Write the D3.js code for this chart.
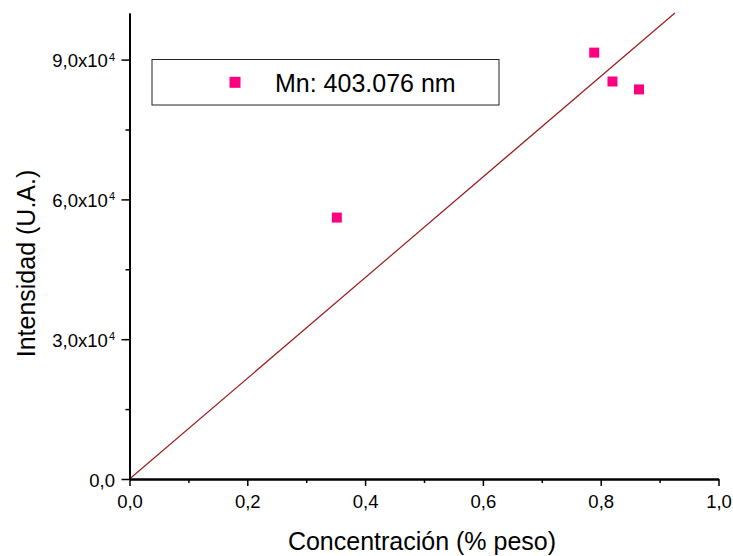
<!DOCTYPE html>
<html>
<head>
<meta charset="utf-8">
<script src="https://cdn.jsdelivr.net/npm/d3@7"></script>
<style>
  body { margin: 0; background: #fff; }
  svg { display: block; font-family: "Liberation Sans", Arial, sans-serif; }
</style>
</head>
<body>
<svg id="chart" width="733" height="556"></svg>
<script>
// Data
const concentracion = [0.352, 0.789, 0.820, 0.865];
const intensidad = [56100, 91500, 85300, 83600];
const fitX = [0, 0.926];
const fitY = [0, 100000];
const xTicks = [0, 0.2, 0.4, 0.6, 0.8, 1.0];
const xMinorTicks = [0.1, 0.3, 0.5, 0.7, 0.9];
const yTicks = [0, 30000, 60000, 90000];
const yMinorTicks = [15000, 45000, 75000];
const seriesName = "Mn: 403.076 nm";
const xTitle = "Concentración (% peso)";
const yTitle = "Intensidad (U.A.)";

const svg = d3.select("#chart");
const x = d3.scaleLinear().domain([0, 1]).range([129.5, 718.5]);
const y = d3.scaleLinear().domain([0, 100000]).range([479, 13]);

const fmtX = d => d3.format(".1f")(d).replace(".", ",");

// Fit line
svg.append("line")
  .attr("x1", x(fitX[0])).attr("y1", y(fitY[0]))
  .attr("x2", x(fitX[1])).attr("y2", y(fitY[1]))
  .attr("stroke", "#9b1c1c").attr("stroke-width", 1.2);

// Points
const ms = 10;
svg.selectAll("rect.pt").data(concentracion).enter().append("rect")
  .attr("class", "pt")
  .attr("x", (d) => x(d) - ms / 2)
  .attr("y", (d, i) => y(intensidad[i]) - ms / 2)
  .attr("width", ms).attr("height", ms)
  .attr("fill", "#ff0080");

// X axis
const gx = svg.append("g").attr("transform", `translate(0,${y(0)})`)
  .call(d3.axisBottom(x).tickValues(xTicks).tickFormat(fmtX).tickSize(7).tickSizeOuter(0).tickPadding(9));
svg.append("g").attr("transform", `translate(0,${y(0)})`)
  .call(d3.axisBottom(x).tickValues(xMinorTicks).tickFormat("").tickSize(4).tickSizeOuter(0));

// Y axis
const gy = svg.append("g").attr("transform", `translate(${x(0)},0)`)
  .call(d3.axisLeft(y).tickValues(yTicks).tickFormat("").tickSize(8).tickSizeOuter(0));
svg.append("g").attr("transform", `translate(${x(0)},0)`)
  .call(d3.axisLeft(y).tickValues(yMinorTicks).tickFormat("").tickSize(4).tickSizeOuter(0));

svg.selectAll(".domain").attr("stroke", "#000").attr("stroke-width", 1.8);
svg.selectAll(".tick line").attr("stroke", "#000").attr("stroke-width", 1.5);
gx.selectAll(".tick text").attr("font-size", 18.5).attr("fill", "#000")
  .attr("font-family", "Liberation Sans, Arial, sans-serif");

// Y tick labels
yTicks.forEach(v => {
  const t = svg.append("text")
    .attr("x", 115).attr("y", y(v) + 7.5)
    .attr("text-anchor", "end")
    .attr("font-size", 18.5).attr("fill", "#000");
  if (v === 0) {
    t.text("0,0");
  } else {
    const m = v / 10000;
    t.append("tspan").text(d3.format(".1f")(m).replace(".", ",") + "x10");
    t.append("tspan").attr("font-size", 11).attr("dy", -6.5).attr("dx", 1).text("4");
  }
});

// Axis titles
svg.append("text")
  .attr("x", 422).attr("y", 550)
  .attr("text-anchor", "middle")
  .attr("font-size", 25).attr("fill", "#000")
  .text(xTitle);
svg.append("text")
  .attr("transform", `translate(35,263.5) rotate(-90)`)
  .attr("text-anchor", "middle")
  .attr("font-size", 25).attr("fill", "#000")
  .text(yTitle);

// Legend
svg.append("rect")
  .attr("x", 152).attr("y", 59.5).attr("width", 347).attr("height", 45.5)
  .attr("fill", "#fff").attr("stroke", "#222").attr("stroke-width", 1);
svg.append("rect")
  .attr("x", 235 - 5.5).attr("y", 82.3 - 5.5).attr("width", 11).attr("height", 11)
  .attr("fill", "#ff0080");
svg.append("text")
  .attr("x", 275).attr("y", 91.5)
  .attr("font-size", 25).attr("fill", "#000")
  .text(seriesName);
</script>
</body>
</html>
